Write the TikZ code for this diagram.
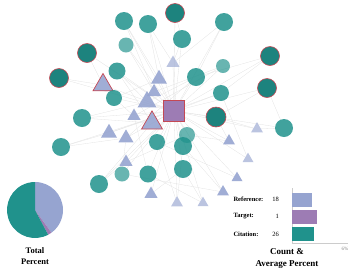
\documentclass[tikz,border=0pt]{standalone}
\usepackage{fontspec}
\setmainfont{Liberation Serif}
\usetikzlibrary{shapes.geometric, backgrounds}

\definecolor{citeteal}{RGB}{32,146,140}
\definecolor{refblue}{RGB}{150,164,208}
\definecolor{tgtpurple}{RGB}{157,124,180}
\definecolor{hired}{RGB}{196,72,84}

\tikzset{
	cite/.style={circle, fill=citeteal, fill opacity=0.85, inner sep=0pt},
	citelt/.style={cite, fill opacity=0.68},
	citehl/.style={cite, fill opacity=1, fill=citeteal!90!black, draw=hired, line width=0.6pt},
	refnode/.style={regular polygon, regular polygon sides=3, fill=refblue, fill opacity=0.9, inner sep=0pt},
	reflt/.style={refnode, fill opacity=0.65},
	refhl/.style={refnode, draw=hired, line width=0.7pt},
	tgtnode/.style={rectangle, fill=tgtpurple, draw=hired, line width=0.6pt, inner sep=0pt, minimum size=21pt},
	link/.style={gray!22, line width=0.3pt},
	bar/.style={rectangle, anchor=west, inner sep=0pt, minimum height=14pt},
	legtxt/.style={font=\fontsize{6.5}{7}\selectfont\bfseries},
	legnum/.style={font=\fontsize{6.5}{7}\selectfont, anchor=east},
	titletxt/.style={align=center, font=\bfseries}
}

\begin{document}
\begin{tikzpicture}[x=1pt, y=-1pt]
	\useasboundingbox (0,0) rectangle (359,269);
	% ---------- network: target ----------
	\node[tgtnode] (t) at (174,111) {};
	% ---------- network: references ----------
	\foreach \n/\x/\y/\w in {2/159/79/16, 4/154/92/14, 5/147/102/19, 6/134/116/13,
		8/109/133/16, 9/126/138/15, 10/126/162/13, 11/229/141/12, 14/237/178/11,
		15/223/192/12, 18/151/194/13}
	{
		\node[refnode, minimum size=\w*1.155pt] (r\n) at (\x,\y) {};
	}
	\foreach \n/\x/\y/\w in {3/173/63/13, 12/257/129/12, 13/248/159/11, 16/203/203/11, 17/177/203/12}
	{
		\node[reflt, minimum size=\w*1.155pt] (r\n) at (\x,\y) {};
	}
	\node[refhl, minimum size=20*1.155pt] (r1) at (103,85) {};
	\node[refhl, minimum size=21*1.155pt] (r7) at (152,123) {};
	% ---------- network: citations ----------
	\foreach \n/\x/\y/\d in {1/124/21/18, 2/148/24/18, 6/182/39/18, 8/117/71/17, 9/114/98/16,
		10/82/118/18, 11/224/22/18, 14/196/77/18, 16/221/93/16, 18/284/128/18,
		20/183/146/18, 21/157/142/16, 22/61/147/18, 24/148/174/17, 25/99/184/18, 26/183/169/18}
	{
		\node[cite, minimum size=\d pt] (c\n) at (\x,\y) {};
	}
	\foreach \n/\x/\y/\d in {4/126/45/15, 13/223/66/14, 19/187/135/16, 23/122/174/15}
	{
		\node[citelt, minimum size=\d pt] (c\n) at (\x,\y) {};
	}
	\foreach \n/\x/\y/\d in {3/175/13/19, 5/87/53/19, 7/59/78/19, 12/270/56/19, 15/267/88/19, 17/216/117/20}
	{
		\node[citehl, minimum size=\d pt] (c\n) at (\x,\y) {};
	}
	% ---------- network: links ----------
	\begin{scope}[on background layer]
		\foreach \n in {1,...,18}
		\draw[link] (t) -- (r\n);
		\foreach \n in {1,...,26}
		\draw[link] (t) -- (c\n);
		\foreach \a/\b in {c1/r2, c2/r3, c3/c6, c5/r1, c7/r1, c8/r5, c4/r4, c11/c14,
			c12/c16, c12/c14, c15/c18, c15/c17, c13/r4, c22/r8, c25/r10, c23/r9,
			c24/r6, c26/r16, c20/r15, c19/r11, c18/r12, c10/r7, c9/r6, c21/r14,
			c16/r13, c14/r5, c6/r3, c2/r2, c17/r12, c20/r17, c26/r18, r11/c17,
			c24/r16, c21/r17, c10/r5, c8/r7, c22/r9, c25/r7, c1/r4, c11/r3,
			c13/r6, c16/r8, c19/r10, c23/r15, c9/r2, c14/r9}
		\draw[link] (\a) -- (\b);
	\end{scope}
	% ---------- pie: total percent ----------
	\coordinate (pc) at (35,210);
	\fill[refblue] (pc) -- ++(-90:28) arc[start angle=-90, end angle=54, radius=28] -- cycle;
	\fill[tgtpurple] (pc) -- ++(54:28) arc[start angle=54, end angle=62, radius=28] -- cycle;
	\fill[citeteal] (pc) -- ++(62:28) arc[start angle=62, end angle=270, radius=28] -- cycle;
	\node[titletxt, font=\fontsize{8.5}{11}\selectfont\bfseries] (pielab) at (35,256.5) {Total\\Percent};
	% ---------- bars: count and average percent ----------
	\coordinate (axtop) at (292,188);
	\coordinate (axo) at (292,243);
	\coordinate (axend) at (348,243);
	\draw[gray!40, line width=0.4pt] (axtop) -- (axo) -- (axend);
	\node[bar, fill=refblue, minimum width=20pt] (bref) at (292.2,199.5) {};
	\node[bar, fill=tgtpurple, minimum width=25pt] (btgt) at (292.2,216.5) {};
	\node[bar, fill=citeteal, minimum width=22pt] (bcit) at (292.2,234) {};
	\node[legtxt, anchor=west] (lref) at (230,199) {Reference:};
	\node[legtxt, anchor=west] (ltgt) at (230,216.5) {Target:};
	\node[legtxt, anchor=west] (lcit) at (230,234) {Citation:};
	\node[legnum] (nref) at (282.5,199) {18};
	\node[legnum] (ntgt) at (282.5,216.5) {1};
	\node[legnum] (ncit) at (282.5,234) {26};
	\node[font=\fontsize{5}{6}\selectfont, text=gray] (pct) at (345,249) {6\%};
	\node[titletxt, font=\fontsize{9}{12}\selectfont\bfseries] (barlab) at (287,258) {Count \&\\Average Percent};
\end{tikzpicture}
\end{document}
